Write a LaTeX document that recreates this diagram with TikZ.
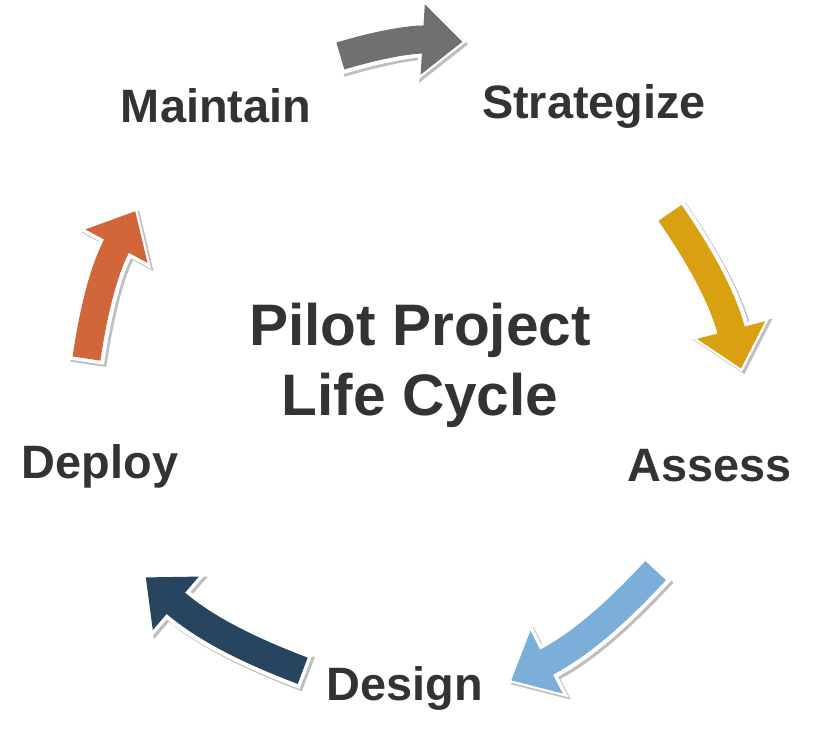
\documentclass[tikz,border=0pt]{standalone}
\usepackage{fontspec}
\setmainfont{Liberation Sans}
\usetikzlibrary{arrows.meta}
\definecolor{txtgray}{HTML}{333333}
\definecolor{cyclegray}{HTML}{707070}
\definecolor{cyclegold}{HTML}{D9A011}
\definecolor{cycleblue}{HTML}{7BAFD9}
\definecolor{cyclenavy}{HTML}{27455F}
\definecolor{cycleorange}{HTML}{D2653A}
\tikzset{
  stagelabel/.style={font=\bfseries\fontsize{40}{44}\selectfont,text=txtgray},
  arrowshadow/.style={line width=31pt,draw=black!25,-{Triangle[width=68pt,length=40pt]}},
  arrowrim/.style={line width=31pt,draw=white,-{Triangle[width=68pt,length=40pt]}},
  arrowbody/.style={line width=24pt,draw=#1,-{Triangle[width=58pt,length=34pt]},shorten >=3pt,shorten <=3pt}
}
\newcommand{\cyclearrow}[3]{%
  \draw[arrowshadow,transform canvas={shift={(2pt,-2pt)}}] (#1) to[bend left=10] (#2);
  \draw[arrowrim] (#1) to[bend left=10] (#2);
  \draw[arrowbody=#3] (#1) to[bend left=10] (#2);
}

\begin{document}
\begin{tikzpicture}[x=0.03cm,y=-0.03cm]
\useasboundingbox (0,0) rectangle (815,733);

% arrow ends
\coordinate (gray-a) at (337,57);
\coordinate (gray-b) at (466,42);
\coordinate (gold-a) at (668,210);
\coordinate (gold-b) at (742,372);
\coordinate (blue-a) at (658,568);
\coordinate (blue-b) at (508,682);
\coordinate (navy-a) at (306,672);
\coordinate (navy-b) at (143,575);
\coordinate (orange-a) at (86,362);
\coordinate (orange-b) at (137,208);

\cyclearrow{gray-a}{gray-b}{cyclegray}
\cyclearrow{gold-a}{gold-b}{cyclegold}
\cyclearrow{blue-a}{blue-b}{cycleblue}
\cyclearrow{navy-a}{navy-b}{cyclenavy}
\cyclearrow{orange-a}{orange-b}{cycleorange}

% stage names
\node[stagelabel] (maintain) at (216,106) {Maintain};
\node[stagelabel] (strategize) at (594,106) {Strategize};
\node[stagelabel] (assess) at (710,466) {Assess};
\node[stagelabel] (design) at (405,688) {Design};
\node[stagelabel] (deploy) at (100,466) {Deploy};

\node[font=\bfseries\fontsize{50}{60}\selectfont,text=txtgray,align=center] (title) at (420,365) {Pilot Project\\Life Cycle};
\end{tikzpicture}
\end{document}
